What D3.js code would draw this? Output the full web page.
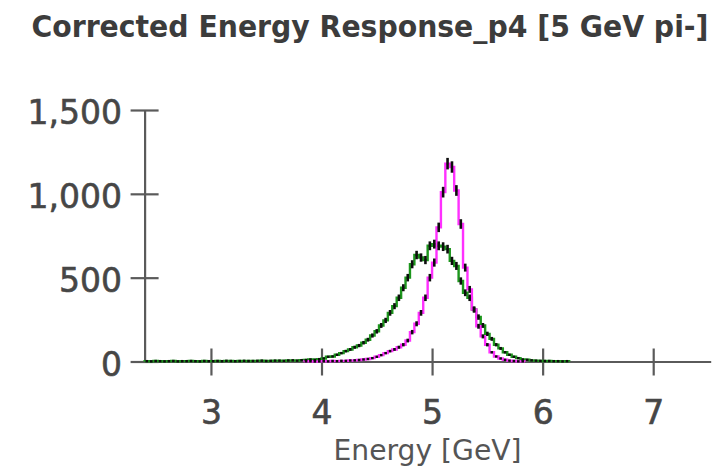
<!DOCTYPE html>
<html>
<head>
<meta charset="utf-8">
<script src="https://cdn.jsdelivr.net/npm/d3@7/dist/d3.min.js"></script>
<style>
  html, body { margin: 0; padding: 0; background: #fff; }
  svg { display: block; }
</style>
</head>
<body>
<svg id="chart" width="722" height="472"></svg>
<script>
// Histogram binning: fixed-width bins starting at binStart (GeV)
const binStart = 2.4;
const binWidth = 0.04;

// Green response histogram, bins from 2.40 GeV
const greenCounts = [
  2, 1, 3, 2, 1, 2, 3, 1, 2, 2, 3, 2, 1, 3, 2, 2, 3, 2, 4, 3, 2, 3, 4, 3, 3, 4, 5, 3, 4, 5,
  5, 4, 6, 7, 5, 8, 9, 12, 10, 14,
  18, 28, 30, 40, 50, 62, 72, 85, 95, 112,
  130, 155, 180, 215, 245, 290, 330, 380, 440, 500,
  580, 635, 620, 605, 690, 700, 690, 685, 670, 600,
  570, 480, 410, 380, 310, 265, 215, 165, 135, 100,
  78, 55, 40, 28, 20, 12, 10, 7, 5, 4,
  3, 3, 2, 2, 1, 2
];

// Corrected response (magenta), first bin index into the same binning
const magentaFirstBin = 36;
const magentaCounts = [
  1, 2, 0, 1, 2, 1, 3, 2, 4,
  4, 6, 7, 9, 12,
  15, 20, 28, 38, 50, 62, 72, 85, 100, 125,
  175, 225, 290, 380, 500, 590, 800, 1010, 1180, 1160,
  1020, 820, 560, 430, 310, 210, 150, 100, 55, 30,
  18, 10, 5, 3, 1, 1
];

const xTicks = [3, 4, 5, 6, 7];
const yTicks = [0, 500, 1000, 1500];

const titleText = "Corrected Energy Response_p4 [5 GeV pi-]";
const xLabel = "Energy [GeV]";

const svg = d3.select("#chart");

const x = d3.scaleLinear().domain([2.4, 7.52]).range([144.6, 710.7]);
const y = d3.scaleLinear().domain([0, 1500]).range([361.5, 110]);

// Title
svg.append("text")
  .attr("x", 31.5)
  .attr("y", 36.5)
  .attr("textLength", 677)
  .attr("lengthAdjust", "spacingAndGlyphs")
  .style("font-family", "'DejaVu Sans Condensed', 'Liberation Sans Narrow', sans-serif")
  .style("font-stretch", "condensed")
  .style("font-weight", "bold")
  .style("font-size", "30px")
  .style("fill", "#3c3c3c")
  .text(titleText);

// Build bin records for a series
function bins(counts, first) {
  return counts.map((c, i) => ({
    lo: binStart + (first + i) * binWidth,
    hi: binStart + (first + i + 1) * binWidth,
    c: c
  }));
}

function stepPath(b) {
  const pts = [[b[0].lo, 0]];
  b.forEach(d => { pts.push([d.lo, d.c]); pts.push([d.hi, d.c]); });
  pts.push([b[b.length - 1].hi, 0]);
  return d3.line().x(p => x(p[0])).y(p => y(p[1]))(pts);
}

const greenBins = bins(greenCounts, 0);
const magentaBins = bins(magentaCounts, magentaFirstBin);

const plot = svg.append("g");

plot.append("path")
  .attr("d", stepPath(greenBins))
  .attr("fill", "none")
  .attr("stroke", "#1c961c")
  .attr("stroke-width", 2.4);

plot.append("path")
  .attr("d", stepPath(magentaBins))
  .attr("fill", "none")
  .attr("stroke", "#ff30ff")
  .attr("stroke-width", 2.4);

const labelStyle = sel => sel
  .style("font-family", "'DejaVu Sans', Verdana, sans-serif")
  .style("font-size", "33px")
  .style("fill", "#464646")
  .style("stroke", "#464646")
  .style("stroke-width", "0.6px");

// Axes (ticks straddle the axis line)
const xAxis = svg.append("g")
  .attr("transform", `translate(0,${y(0)})`)
  .call(d3.axisBottom(x).tickValues(xTicks).tickSize(14).tickSizeOuter(0).tickPadding(22)
        .tickFormat(d3.format("d")));
xAxis.select(".domain").attr("stroke", "#5a5a5a").attr("stroke-width", 2.2);
xAxis.selectAll(".tick line").attr("y1", -13).attr("y2", 14)
  .attr("stroke", "#5a5a5a").attr("stroke-width", 2.2);
xAxis.selectAll(".tick text")
  .attr("y", 0).attr("dy", null)
  .attr("transform", "translate(0,62.5)")
  .call(labelStyle);

const yAxis = svg.append("g")
  .attr("transform", `translate(${x(2.4)},0)`)
  .call(d3.axisLeft(y).tickValues(yTicks).tickSize(14).tickSizeOuter(0).tickPadding(22)
        .tickFormat(d3.format(",")));
yAxis.select(".domain").attr("stroke", "#5a5a5a").attr("stroke-width", 2.2);
yAxis.selectAll(".tick line").attr("x1", -14).attr("x2", 14)
  .attr("stroke", "#5a5a5a").attr("stroke-width", 2.2);
yAxis.selectAll(".tick text")
  .attr("x", -22.5)
  .attr("dy", "0.42em")
  .call(labelStyle);

xAxis.selectAll("text").attr("font-family", null).attr("font-size", null);
yAxis.selectAll("text").attr("font-family", null).attr("font-size", null);

// Error markers (±sqrt(N)) at bin centres, drawn above both histograms
function markers(b) {
  plot.append("g").selectAll("line")
    .data(b)
    .join("line")
    .attr("x1", d => x((d.lo + d.hi) / 2))
    .attr("x2", d => x((d.lo + d.hi) / 2))
    .attr("y1", d => Math.min(y(d.c + Math.sqrt(d.c)), y(d.c) - 1.2))
    .attr("y2", d => Math.max(y(d.c - Math.sqrt(d.c)), y(d.c) + 1.2))
    .attr("stroke", "#0d0d0d")
    .attr("stroke-width", 2.6);
}
markers(greenBins);
markers(magentaBins);
plot.raise();

// X axis title
svg.append("text")
  .attr("x", 333.5)
  .attr("y", 460)
  .attr("textLength", 188)
  .attr("lengthAdjust", "spacingAndGlyphs")
  .style("font-family", "'DejaVu Sans Condensed', 'DejaVu Sans', sans-serif")
  .style("font-size", "29px")
  .style("fill", "#555")
  .text(xLabel);
</script>
</body>
</html>
